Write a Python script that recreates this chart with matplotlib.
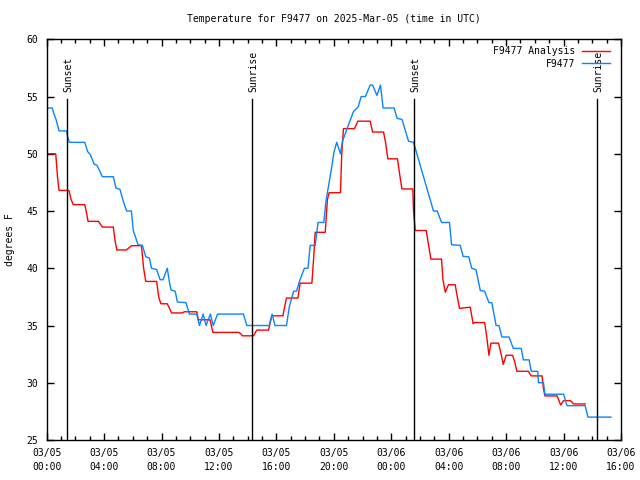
import matplotlib
matplotlib.use("Agg")
import matplotlib.pyplot as plt
from matplotlib.ticker import MultipleLocator

plt.rcParams['font.family'] = ['DejaVu Sans Mono']

# hours since 03/05 00:00 UTC
obs_hours = [0.0, 0.39, 0.5, 0.65, 0.86, 1.39, 1.45, 1.58, 2.65, 2.85, 3.05, 3.3, 3.5, 3.88,
             4.64, 4.83, 5.1, 5.3, 5.57, 5.9, 6.03, 6.36, 6.67, 6.9, 7.15, 7.3, 7.65, 7.9,
             8.1, 8.4, 8.54, 8.66, 8.95, 9.1, 9.7, 9.94, 10.45, 10.64, 10.9, 11.1, 11.4, 11.6,
             11.9, 13.7, 13.94, 15.5, 15.7, 15.9, 16.7, 16.9, 17.2, 17.4, 17.6, 17.95, 18.2,
             18.35, 18.7, 18.9, 19.3, 19.45, 19.55, 19.86, 20.0, 20.2, 20.46, 20.6, 21.07,
             21.37, 21.7, 21.9, 22.2, 22.53, 22.7, 23.0, 23.25, 23.43, 24.2, 24.4, 24.75,
             25.2, 25.55, 26.94, 27.2, 27.5, 28.05, 28.2, 28.8, 29.0, 29.4, 29.6, 29.9,
             30.2, 30.5, 30.8, 31.0, 31.3, 31.5, 31.7, 32.2, 32.5, 33.05, 33.2, 33.6, 33.75,
             34.2, 34.25, 34.6, 34.7, 36.0, 36.24, 37.5, 37.7, 39.3]
obs_temp = [54.0, 54.0, 53.5, 53.0, 52.0, 52.0, 51.5, 51.0, 51.0, 50.2, 49.9, 49.1, 49.0, 48.0,
            48.0, 47.0, 46.9, 46.0, 45.0, 45.0, 43.3, 42.06, 42.0, 41.0, 40.9, 40.0, 39.9, 39.0,
            39.0, 40.0, 38.85, 38.1, 38.0, 37.05, 37.0, 36.0, 36.0, 35.0, 36.0, 35.0, 36.0, 35.0,
            36.0, 36.0, 35.0, 35.0, 36.0, 35.0, 35.0, 36.66, 38.0, 38.0, 38.85, 40.0, 40.0,
            42.0, 42.0, 44.0, 44.0, 45.85, 46.6, 48.9, 50.1, 51.0, 50.0, 51.1, 52.7,
            53.7, 54.1, 55.0, 55.0, 56.0, 56.0, 55.1, 56.0, 54.0, 54.0, 53.1, 53.0,
            51.1, 51.0, 45.0, 45.0, 44.0, 44.0, 42.06, 42.0, 41.04, 41.0, 40.0, 39.87,
            38.06, 38.0, 37.0, 37.0, 35.0, 35.0, 34.0, 34.0, 33.0, 33.0, 32.0, 32.0, 31.0,
            31.0, 30.0, 30.0, 29.0, 29.0, 28.0, 28.0, 27.0, 27.0]

ana_hours = [0.0, 0.63, 0.75, 0.86, 1.55, 1.7, 1.85, 2.65, 2.75, 2.88, 3.6, 3.88, 4.64, 4.75,
             4.88, 5.55, 5.9, 6.6, 6.75, 6.9, 7.66, 7.8, 7.95, 8.4, 8.7, 9.47, 9.57, 10.45,
             10.56, 11.38, 11.57, 13.4, 13.65, 14.4, 14.63, 15.45, 15.68, 16.45, 16.6, 16.7,
             17.5, 17.65, 18.47, 18.6, 18.7, 19.4, 19.55, 19.67, 20.46, 20.55, 20.67, 21.44,
             21.67, 22.53, 22.7, 23.46, 23.6, 23.76, 24.43, 24.55, 24.74, 25.5, 25.55, 25.67,
             26.43, 26.6, 26.76, 27.5, 27.6, 27.76, 27.98, 28.45, 28.6, 28.75, 29.5, 29.7,
             29.8, 30.5, 30.65, 30.8, 30.94, 31.47, 31.65, 31.8, 32.0, 32.45, 32.6, 32.75,
             33.55, 33.75, 34.5, 34.6, 34.7, 35.55, 35.8, 36.0, 36.47, 36.7, 37.5]
ana_temp = [50.0, 50.0, 48.0, 46.8, 46.8, 46.0, 45.56, 45.56, 45.0, 44.1, 44.1, 43.6, 43.6, 42.5,
            41.6, 41.6, 41.97, 41.97, 40.0, 38.85, 38.85, 37.5, 36.9, 36.9, 36.1, 36.1, 36.2, 36.2,
            35.5, 35.5, 34.4, 34.4, 34.1, 34.1, 34.6, 34.6, 35.85, 35.85, 36.8, 37.4,
            37.4, 38.7, 38.7, 41.0, 43.14, 43.14, 46.0, 46.6, 46.6, 50.0, 52.2, 52.2,
            52.85, 52.85, 51.9, 51.9, 51.0, 49.56, 49.56, 48.5, 46.93, 46.93, 45.0, 43.3,
            43.3, 42.0, 40.8, 40.8, 39.0, 37.9, 38.56, 38.56, 37.5, 36.5, 36.6, 35.15,
            35.26, 35.26, 34.0, 32.4, 33.46, 33.46, 32.5, 31.6, 32.4, 32.4, 31.8, 31.0,
            31.0, 30.6, 30.6, 29.5, 28.85, 28.85, 28.06, 28.44, 28.44, 28.15, 28.15]

sun_hours = [1.44, 14.32, 25.55, 38.33]
sun_labels = ["Sunset", "Sunrise", "Sunset", "Sunrise"]

xtick_hours = [0, 4, 8, 12, 16, 20, 24, 28, 32, 36, 40]
xtick_labels = ["03/05\n00:00", "03/05\n04:00", "03/05\n08:00", "03/05\n12:00",
                "03/05\n16:00", "03/05\n20:00", "03/06\n00:00", "03/06\n04:00",
                "03/06\n08:00", "03/06\n12:00", "03/06\n16:00"]

fs = 7
fig = plt.figure(figsize=(6.4, 4.8), dpi=100)
ax = fig.add_axes([46.7/640, 40/480, (621-46.7)/640, (440-39.3)/480])

ax.plot(ana_hours, ana_temp, color='#ff0000', lw=1.0, label='F9477 Analysis')
ax.plot(obs_hours, obs_temp, color='#0a84ff', lw=1.0, label='F9477')

for h, lab in zip(sun_hours, sun_labels):
    ax.plot([h, h], [25, 54.8], color='black', lw=1.0)
    ax.text(h + 0.1, 55.4, lab, rotation=90, ha='center', va='bottom', fontsize=fs)

ax.set_xlim(0, 40)
ax.set_ylim(25, 60)
ax.set_xticks(xtick_hours)
ax.set_xticklabels(xtick_labels, fontsize=fs, linespacing=1.5)
ax.xaxis.set_minor_locator(MultipleLocator(1))
ax.set_yticks([25, 30, 35, 40, 45, 50, 55, 60])
ax.tick_params(axis='both', which='both', direction='in', top=True, right=True,
               labelsize=fs, width=1.0)
ax.tick_params(axis='both', which='major', length=5, pad=6)
ax.tick_params(axis='both', which='minor', length=3)
for s in ax.spines.values():
    s.set_linewidth(1.0)

ax.set_ylabel('degrees F', fontsize=fs)
ax.yaxis.set_label_coords(-0.055, 0.5)
fig.text(0.522, 0.96, 'Temperature for F9477 on 2025-Mar-05 (time in UTC)',
         ha='center', va='center', fontsize=fs)

leg = ax.legend(loc='upper right', bbox_to_anchor=(0.981, 0.983), frameon=False,
                markerfirst=False, fontsize=fs, handlelength=2.9, handletextpad=0.7,
                borderpad=0, borderaxespad=0, labelspacing=0.25)
for t in leg.get_texts():
    t.set_ha('right')

fig.savefig('out.png', dpi=100)
